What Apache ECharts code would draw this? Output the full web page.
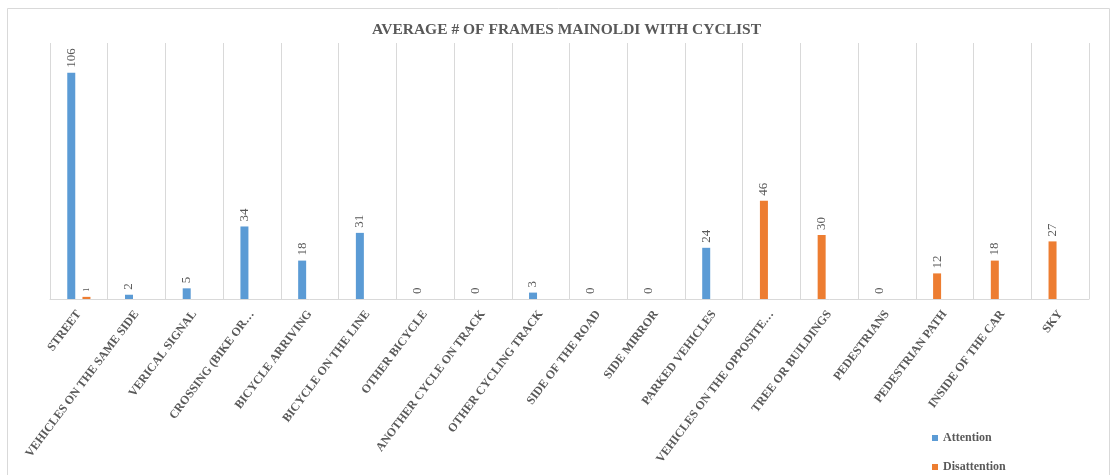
<!DOCTYPE html>
<html>
<head>
<meta charset="utf-8">
<script src="https://cdn.jsdelivr.net/npm/echarts@6/dist/echarts.min.js"></script>
<style>
  html, body { margin: 0; padding: 0; background: #fff; }
  #chart { width: 1113px; height: 475px; }
</style>
</head>
<body>
<div id="chart"></div>
<script>
// Categories of gaze targets
const categories = [
  'STREET', 'VEHICLES ON THE SAME SIDE', 'VERICAL SIGNAL', 'CROSSING (BIKE OR…',
  'BICYCLE ARRIVING', 'BICYCLE ON THE LINE', 'OTHER BICYCLE', 'ANOTHER CYCLE ON TRACK',
  'OTHER CYCLING TRACK', 'SIDE OF THE ROAD', 'SIDE MIRROR', 'PARKED VEHICLES',
  'VEHICLES ON THE OPPOSITE…', 'TREE OR BUILDINGS', 'PEDESTRIANS', 'PEDESTRIAN PATH',
  'INSIDE OF THE CAR', 'SKY'
];
// Average number of frames per category (null = no value recorded)
const attention = [106, 2, 5, 34, 18, 31, 0, 0, 3, 0, 0, 24, null, null, 0, null, null, null];
const disattention = [1, null, null, null, null, null, null, null, null, null, null, null, 46, 30, null, 12, 18, 27];

const BLUE = '#5B9BD5';
const ORANGE = '#ED7D31';
const GREY = '#595959';
const SERIF = '"Liberation Serif", "Times New Roman", serif';

// Where a category has no attention value, the disattention bar takes the first slot
const disLeft = disattention.map((v, i) => attention[i] == null ? v : null);
const disRight = disattention.map((v, i) => attention[i] == null ? null : v);

const valueLabel = {
  show: true,
  position: 'top',
  rotate: 90,
  align: 'left',
  verticalAlign: 'middle',
  distance: 5,
  color: GREY,
  fontFamily: SERIF,
  fontSize: 13
};

const legendText = { color: GREY, fontFamily: SERIF, fontWeight: 'bold', fontSize: 12 };

const chart = echarts.init(document.getElementById('chart'));
chart.setOption({
  animation: false,
  backgroundColor: '#fff',
  title: {
    text: 'AVERAGE # OF FRAMES MAINOLDI WITH CYCLIST',
    left: 367,
    top: 17,
    textStyle: { color: GREY, fontFamily: SERIF, fontWeight: 'bold', fontSize: 15.5 }
  },
  graphic: [{
    type: 'rect',
    shape: { x: 7.5, y: 8.5, width: 1102, height: 480 },
    style: { fill: 'none', stroke: '#d9d9d9', lineWidth: 1 },
    silent: true
  }],
  legend: [
    {
      data: ['Attention'], left: 927, top: 427,
      itemWidth: 6, itemHeight: 6, itemGap: 4, icon: 'rect', textStyle: legendText
    },
    {
      data: ['Disattention'], left: 927, top: 456,
      itemWidth: 6, itemHeight: 6, itemGap: 4, icon: 'rect', textStyle: legendText
    }
  ],
  grid: { left: 50, right: 24, top: 43, bottom: 176, containLabel: false },
  xAxis: {
    type: 'category',
    data: categories,
    axisLine: { lineStyle: { color: '#d9d9d9' } },
    axisTick: { show: false },
    splitLine: { show: true, interval: 0, lineStyle: { color: '#d9d9d9' } },
    axisLabel: {
      interval: 0,
      rotate: 53,
      margin: 13,
      color: GREY,
      fontFamily: SERIF,
      fontWeight: 'bold',
      fontSize: 12
    }
  },
  yAxis: {
    type: 'value',
    min: 0,
    max: 120,
    show: false,
    splitLine: { show: false }
  },
  series: [
    {
      name: 'Attention', type: 'bar', stack: 'slot1', data: attention,
      barWidth: 8, barGap: '90%',
      itemStyle: { color: BLUE }, label: valueLabel
    },
    {
      name: 'Disattention', type: 'bar', stack: 'slot1', data: disLeft,
      barWidth: 8, barGap: '90%',
      itemStyle: { color: ORANGE }, label: valueLabel
    },
    {
      name: 'Disattention', type: 'bar', data: disRight,
      barWidth: 8, barGap: '90%',
      itemStyle: { color: ORANGE }, label: Object.assign({}, valueLabel, { fontSize: 8 })
    }
  ]
});
</script>
</body>
</html>
